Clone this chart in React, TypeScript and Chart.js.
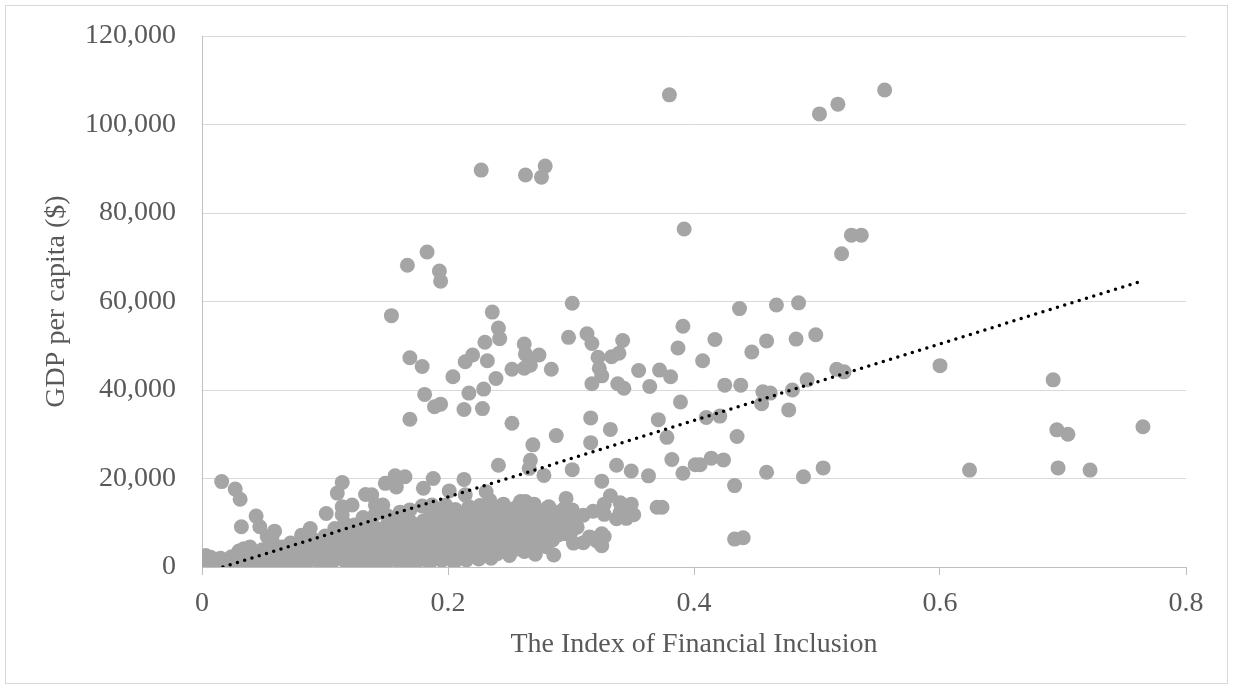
import React, { useEffect, useRef } from 'react';
import { Chart, registerables } from 'chart.js';

Chart.register(...registerables);

// Axis ticks
const xTickValues = [0, 0.2, 0.4, 0.6, 0.8];
const xTickLabels = ['0', '0.2', '0.4', '0.6', '0.8'];
const yTickValues = [0, 20000, 40000, 60000, 80000, 100000, 120000];
const yTickLabels = ['0', '20,000', '40,000', '60,000', '80,000', '100,000', '120,000'];

// Linear trend line end points [IFI, GDP]
const trendFii = [0.017, 0.765];
const trendGdp = [0, 64700];

// Scatter observations [IFI, GDP per capita]
const highIncomePoints: [number, number][] = [
  [0.380, 106700], [0.502, 102400], [0.517, 104600], [0.555, 107800],
  [0.227, 89700], [0.263, 88600], [0.279, 90600], [0.276, 88100],
  [0.392, 76400], [0.183, 71200], [0.167, 68200], [0.193, 66900], [0.194, 64600],
  [0.520, 70800], [0.528, 75000], [0.536, 75000],
];

const middlePoints: [number, number][] = [
  [0.301, 59600], [0.236, 57600], [0.154, 56800],
  [0.437, 58400], [0.467, 59200], [0.485, 59700],
  [0.241, 54000], [0.242, 51600], [0.230, 50800], [0.298, 51900], [0.313, 52700], [0.317, 50500], [0.342, 51200], [0.391, 54400],
  [0.417, 51400], [0.459, 51100], [0.483, 51500], [0.499, 52500],
  [0.387, 49500], [0.447, 48600], [0.407, 46600],
  [0.262, 50400], [0.263, 48100], [0.274, 47900], [0.267, 45600], [0.252, 44700], [0.284, 44700], [0.262, 44900],
  [0.232, 46600], [0.239, 42600], [0.229, 40200], [0.228, 35800],
  [0.322, 47400], [0.323, 44900], [0.325, 43200], [0.333, 47500], [0.339, 48300],
  [0.317, 41400], [0.338, 41400], [0.343, 40400],
  [0.355, 44400], [0.372, 44500], [0.381, 43000], [0.364, 40800],
  [0.516, 44700], [0.522, 44100], [0.600, 45500],
  [0.492, 42300], [0.692, 42300],
  [0.425, 41100], [0.438, 41100], [0.456, 39600], [0.462, 39300], [0.480, 40000],
  [0.455, 36900], [0.477, 35500], [0.389, 37300],
  [0.410, 33800], [0.421, 34100], [0.371, 33300], [0.316, 33700], [0.252, 32500], [0.332, 31100],
  [0.435, 29500], [0.695, 31000], [0.704, 30000], [0.765, 31700],
  [0.288, 29700], [0.269, 27600], [0.316, 28100], [0.378, 29300],
  [0.414, 24600], [0.424, 24200], [0.405, 23100],
  [0.267, 24100], [0.266, 22300], [0.241, 23000], [0.301, 22000], [0.278, 20700],
  [0.337, 23000], [0.349, 21700], [0.363, 20600], [0.382, 24300], [0.391, 21200], [0.401, 23100],
  [0.459, 21400], [0.489, 20400], [0.505, 22400], [0.624, 21900], [0.696, 22400], [0.722, 21900],
  [0.169, 47300], [0.179, 45300], [0.220, 47900], [0.214, 46400], [0.204, 43000],
  [0.181, 39000], [0.189, 36200], [0.194, 36800], [0.217, 39300], [0.213, 35600], [0.169, 33400],
];

const lowerScatterPoints: [number, number][] = [
  [0.433, 18400], [0.433, 6300], [0.440, 6600],
  [0.325, 19400], [0.332, 16100], [0.327, 14200], [0.327, 11900], [0.337, 10900], [0.349, 14200], [0.351, 11800], [0.370, 13500], [0.374, 13500],
  [0.296, 15500], [0.295, 13300], [0.296, 11000], [0.305, 11400], [0.281, 13400],
  [0.296, 7500], [0.284, 8100], [0.310, 5500], [0.315, 6800], [0.321, 5900], [0.327, 6900], [0.325, 4800],
  [0.286, 2700], [0.262, 3500], [0.271, 2900], [0.302, 5400],
  [0.016, 19300], [0.027, 17600], [0.031, 15300], [0.032, 9100], [0.044, 11500], [0.047, 9100], [0.059, 8100], [0.057, 6100],
  [0.114, 19100], [0.110, 16700], [0.101, 12100], [0.114, 13600], [0.122, 14000], [0.133, 16400], [0.138, 16300], [0.141, 14000], [0.147, 14000],
  [0.149, 18900], [0.157, 20600], [0.158, 18100], [0.165, 20400], [0.169, 12900], [0.124, 9500], [0.114, 11800], [0.108, 8700], [0.088, 8700], [0.081, 7200],
  [0.157, 10200], [0.162, 8000],
  [0.188, 20000], [0.180, 17800], [0.201, 17200], [0.213, 19800], [0.214, 16300], [0.231, 17000], [0.234, 15100],
  [0.179, 13800], [0.187, 14000], [0.198, 14000], [0.202, 11000], [0.217, 13600], [0.226, 12900], [0.229, 10600],
  [0.259, 14800], [0.263, 14800], [0.271, 12900], [0.282, 13600],
];

const denseClusterPoints: [number, number][] = [
  [0.002, 400], [0.002, 1500], [0.003, 2600],
  [0.006, 800], [0.007, 2200],
  [0.010, 300], [0.011, 1200],
  [0.014, 600], [0.015, 2000], [0.016, 200],
  [0.019, 500], [0.020, 1400],
  [0.024, 300], [0.025, 1100], [0.024, 2300],
  [0.029, 700], [0.030, 3600],
  [0.034, 400], [0.035, 1600], [0.034, 4100],
  [0.039, 900], [0.040, 2400], [0.039, 4500],
  [0.044, 500], [0.045, 1800], [0.044, 3000],
  [0.049, 1100], [0.050, 2700], [0.049, 3900],
  [0.054, 600], [0.055, 2000], [0.055, 4700], [0.053, 6900],
  [0.060, 1300], [0.061, 3200],
  [0.065, 800], [0.066, 2400], [0.065, 4500],
  [0.070, 1500], [0.071, 3300], [0.072, 5400],
  [0.075, 900], [0.076, 2600], [0.075, 4200],
  [0.080, 1700], [0.081, 3500], [0.080, 5800],
  [0.085, 1000], [0.086, 2800], [0.085, 4600],
  [0.090, 1900], [0.091, 3900], [0.090, 6300],
  [0.095, 1200], [0.096, 3000], [0.095, 5100],
  [0.100, 2200], [0.101, 4300], [0.100, 7000],
  [0.105, 600], [0.105, 1400], [0.106, 3400], [0.105, 5600],
  [0.110, 2500], [0.111, 4800], [0.110, 7500],
  [0.115, 1600], [0.116, 3700], [0.115, 6100], [0.116, 9800],
  [0.120, 800], [0.120, 2800], [0.121, 5200], [0.120, 8200],
  [0.125, 1900], [0.126, 4100], [0.125, 6600],
  [0.130, 700], [0.130, 3000], [0.131, 5600], [0.130, 8900], [0.131, 11200],
  [0.135, 2200], [0.136, 4500], [0.135, 7200], [0.136, 10300],
  [0.140, 900], [0.140, 3300], [0.141, 6000], [0.140, 9000], [0.141, 12000],
  [0.145, 2500], [0.146, 4900], [0.145, 7800],
  [0.150, 1000], [0.150, 3600], [0.151, 6400], [0.150, 9300], [0.151, 11500],
  [0.155, 2800], [0.156, 5300], [0.155, 8200], [0.156, 10700],
  [0.160, 1200], [0.160, 4000], [0.161, 6900], [0.160, 9600], [0.161, 12400],
  [0.165, 800], [0.165, 3100], [0.166, 5700], [0.165, 8500], [0.166, 11000],
  [0.170, 1600], [0.170, 4300], [0.171, 7200], [0.170, 10100],
  [0.175, 1300], [0.175, 3400], [0.176, 6100], [0.175, 9000],
  [0.180, 1900], [0.180, 4700], [0.181, 7600], [0.180, 10400],
  [0.185, 900], [0.185, 3700], [0.186, 6500], [0.185, 9400], [0.186, 12200],
  [0.190, 2100], [0.190, 5000], [0.191, 8000], [0.190, 11000],
  [0.195, 1500], [0.195, 4000], [0.196, 6900], [0.195, 9800], [0.196, 12600],
  [0.200, 2300], [0.200, 5400], [0.201, 8300], [0.200, 11300],
  [0.205, 1000], [0.205, 4400], [0.206, 7300], [0.205, 10200], [0.206, 13000],
  [0.210, 2600], [0.210, 5700], [0.211, 8700], [0.210, 11600],
  [0.215, 1600], [0.215, 4700], [0.216, 7600], [0.215, 10500],
  [0.220, 2900], [0.220, 6000], [0.221, 9000], [0.220, 12000],
  [0.225, 1800], [0.225, 5000], [0.226, 8000], [0.225, 10900], [0.226, 13900],
  [0.230, 3500], [0.230, 6400], [0.231, 9400], [0.230, 12300],
  [0.235, 2000], [0.235, 4900], [0.236, 7900], [0.235, 10800],
  [0.240, 3000], [0.240, 6600], [0.241, 9600], [0.240, 12600],
  [0.245, 4300], [0.245, 8000], [0.246, 11100], [0.245, 14200],
  [0.250, 2600], [0.250, 5600], [0.251, 9000], [0.250, 12000],
  [0.255, 4000], [0.255, 7100], [0.256, 10400], [0.255, 13400],
  [0.260, 5400], [0.260, 8600], [0.261, 11500],
  [0.265, 3800], [0.265, 7000], [0.266, 10000], [0.265, 13000],
  [0.270, 5000], [0.270, 8200], [0.271, 11400], [0.270, 14200],
  [0.275, 6500], [0.275, 9800], [0.276, 12600],
  [0.280, 4600], [0.280, 7700], [0.281, 10900],
  [0.285, 6100], [0.285, 9200],
  [0.290, 7300], [0.290, 10600], [0.291, 12500],
  [0.295, 8800],
  [0.300, 7900], [0.300, 10200], [0.301, 12900],
  [0.305, 9000],
  [0.310, 11700],
  [0.318, 12600], [0.318, 6500],
  [0.325, 7500],
  [0.340, 12300], [0.340, 14500],
  [0.345, 11000],
];

const SERIF = '"Liberation Serif", "Times New Roman", Times, serif';
const TEXT_COLOR = '#595959';

export default function App() {
  const canvasRef = useRef<HTMLCanvasElement | null>(null);

  useEffect(() => {
    if (!canvasRef.current) return;
    const allPoints = [
      ...highIncomePoints,
      ...middlePoints,
      ...lowerScatterPoints,
      ...denseClusterPoints,
    ];
    const chart = new Chart(canvasRef.current, {
      type: 'scatter',
      data: {
        datasets: [
          {
            label: 'Linear trend',
            data: trendFii.map((x, i) => ({ x, y: trendGdp[i] })),
            showLine: true,
            borderColor: '#000000',
            backgroundColor: '#000000',
            borderWidth: 3.5,
            borderDash: [0, 7.6],
            borderCapStyle: 'round',
            pointRadius: 0,
            pointHoverRadius: 0,
            fill: false,
            order: 0,
          },
          {
            label: 'GDP per capita',
            data: allPoints.map(([x, y]) => ({ x, y })),
            backgroundColor: '#a5a5a5',
            borderWidth: 0,
            pointRadius: 7.5,
            pointHoverRadius: 7.5,
            order: 1,
          },
        ],
      },
      options: {
        responsive: true,
        maintainAspectRatio: false,
        animation: false,
        layout: { autoPadding: false, padding: { left: 0, top: 36, right: 47, bottom: 0 } },
        plugins: {
          legend: { display: false },
          tooltip: { enabled: false },
        },
        scales: {
          x: {
            type: 'linear',
            min: 0,
            max: 0.8,
            afterBuildTicks: (scale: any) => {
              scale.ticks = xTickValues.map((v) => ({ value: v }));
            },
            afterFit: (scale: any) => {
              scale.height = 122;
            },
            ticks: {
              autoSkip: false,
              maxRotation: 0,
              padding: 12,
              color: TEXT_COLOR,
              font: { family: SERIF, size: 28 },
              callback: (_v: any, i: number) => xTickLabels[i],
            },
            grid: {
              drawOnChartArea: false,
              drawTicks: true,
              tickLength: 8,
              color: '#bfbfbf',
            },
            border: { display: true, color: '#bfbfbf', width: 1 },
            title: {
              display: true,
              text: 'The Index of Financial Inclusion',
              color: TEXT_COLOR,
              font: { family: SERIF, size: 28 },
              padding: { top: 0, bottom: 28 },
            },
          },
          y: {
            type: 'linear',
            min: 0,
            max: 120000,
            afterBuildTicks: (scale: any) => {
              scale.ticks = yTickValues.map((v) => ({ value: v }));
            },
            afterFit: (scale: any) => {
              scale.width = 202;
            },
            ticks: {
              autoSkip: false,
              padding: 0,
              color: TEXT_COLOR,
              font: { family: SERIF, size: 28 },
              callback: (_v: any, i: number) => yTickLabels[i],
            },
            grid: {
              drawTicks: true,
              tickLength: 26,
              tickColor: 'rgba(0,0,0,0)',
              color: '#d9d9d9',
            },
            border: { display: true, color: '#bfbfbf', width: 1 },
            title: {
              display: true,
              text: 'GDP per capita ($)',
              color: TEXT_COLOR,
              font: { family: SERIF, size: 28 },
              padding: { top: 40, bottom: 0 },
            },
          },
        },
      },
    } as any);
    return () => chart.destroy();
  }, []);

  return (
    <div
      style={{
        position: 'fixed',
        left: 0,
        top: 0,
        width: 1233,
        height: 689,
        background: '#ffffff',
      }}
    >
      <div
        style={{
          position: 'absolute',
          left: 5,
          top: 5,
          width: 1223,
          height: 679,
          boxSizing: 'border-box',
          border: '1px solid #d9d9d9',
          pointerEvents: 'none',
        }}
      />
      <canvas ref={canvasRef} style={{ position: 'absolute', left: 0, top: 0, width: 1233, height: 689 }} />
    </div>
  );
}
